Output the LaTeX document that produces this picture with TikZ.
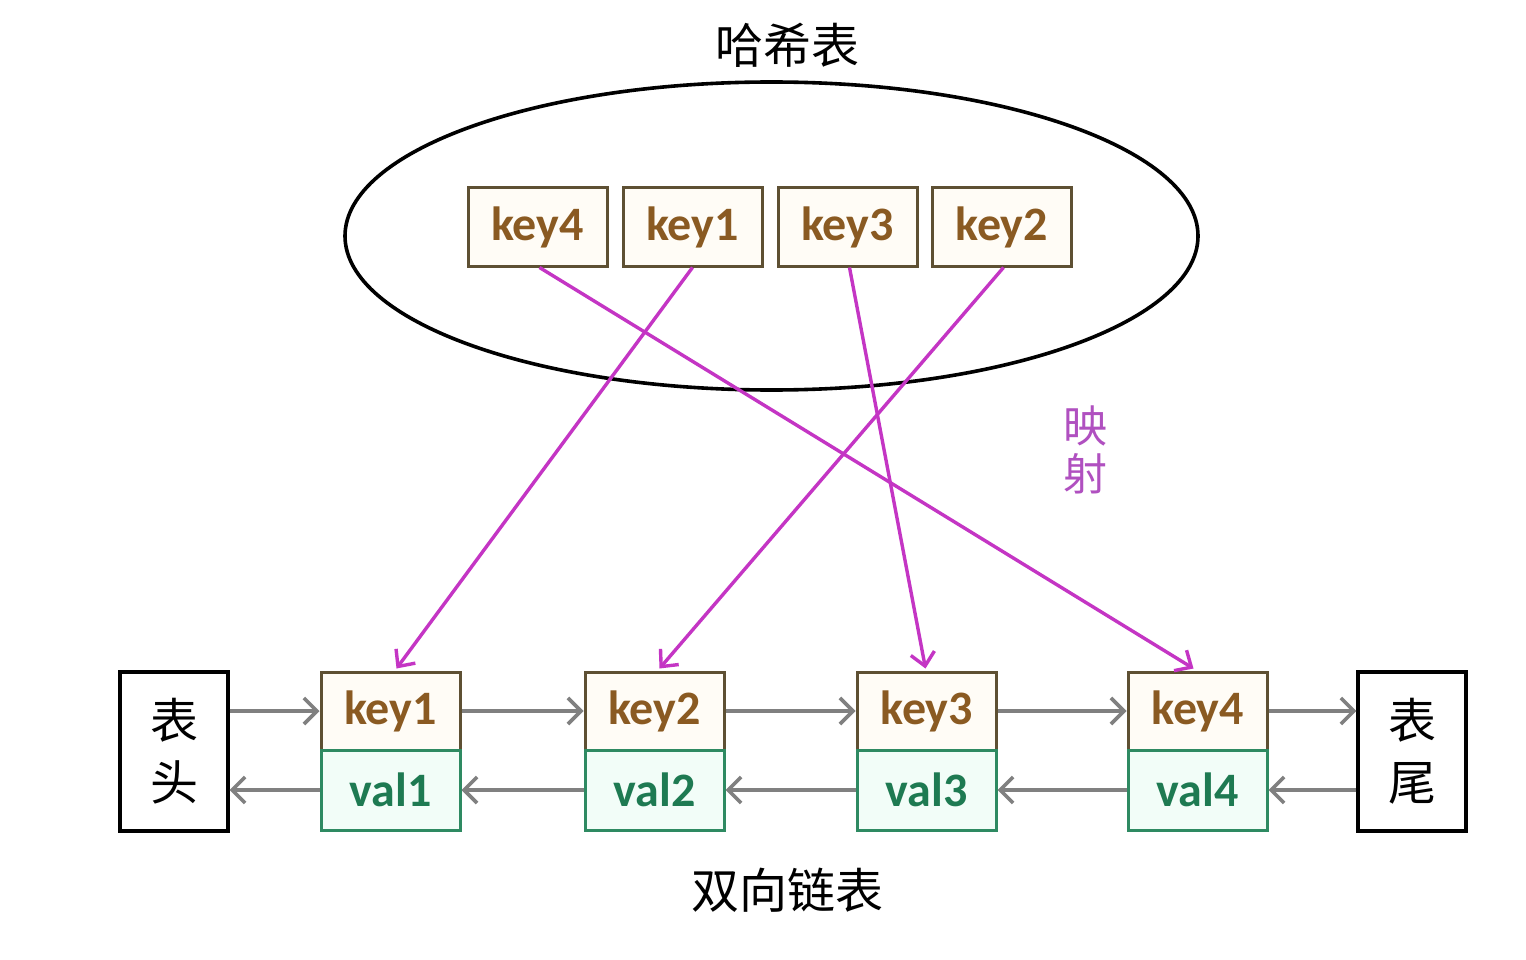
\documentclass[tikz,border=0pt]{standalone}
\usepackage{fontspec}
\setmainfont{Carlito}
\newfontfamily\cjk{Noto Sans CJK SC}
\usetikzlibrary{shapes.geometric,arrows.meta}
\definecolor{keytxt}{HTML}{8A5A22}
\definecolor{keybdr}{HTML}{5E5033}
\definecolor{keyfill}{HTML}{FFFCF6}
\definecolor{valtxt}{HTML}{1E7A52}
\definecolor{valbdr}{HTML}{2E8A62}
\definecolor{valfill}{HTML}{F2FDF8}
\definecolor{arrgray}{HTML}{808080}
\definecolor{mag}{HTML}{C435C4}
\definecolor{magtxt}{HTML}{B050C0}
\tikzset{
  keybox/.style={draw=keybdr, fill=keyfill, line width=3pt, minimum width=139pt, minimum height=78pt, inner sep=0pt,
    text=keytxt, font=\fontsize{48}{52}\selectfont\bfseries},
  valbox/.style={draw=valbdr, fill=valfill, line width=3pt, minimum width=139pt, minimum height=80pt, inner sep=0pt,
    text=valtxt, font=\fontsize{48}{52}\selectfont\bfseries},
  endbox/.style={draw=black, line width=3.2pt, minimum width=108pt, minimum height=159pt, inner sep=0pt,
    align=center, font=\cjk\fontsize{48}{62}\selectfont},
  grayarr/.style={draw=arrgray, line width=3.6pt, -{Straight Barb[length=13pt,width=26pt,line width=3.6pt]}},
  magarr/.style={draw=mag, line width=3.4pt, -{Straight Barb[length=13pt,width=24pt,line width=3.4pt]}},
  cjklabel/.style={font=\cjk\fontsize{48}{52}\selectfont, inner sep=0pt}
}
\begin{document}
\begin{tikzpicture}[x=1pt,y=1pt]
\useasboundingbox[fill=white] (0,0) rectangle (1526,-960);
% hash table
\node[cjklabel] (title) at (787,-45) {哈希表};
\node[draw=black, line width=3.6pt, ellipse, minimum width=853pt, minimum height=308pt, inner sep=0pt] (hash) at (771.5,-236) {};
\node[keybox] (h4) at (537.5,-227) {key4};
\node[keybox] (h1) at (692.5,-227) {key1};
\node[keybox] (h3) at (847.5,-227) {key3};
\node[keybox] (h2) at (1001.5,-227) {key2};
% linked list
\node[endbox] (head) at (174,-751.5) {表\\头};
\node[endbox] (tail) at (1412,-751.5) {表\\尾};
\node[keybox] (k1) at (390.5,-711) {key1};
\node[valbox] (v1) at (390.5,-790) {val1};
\node[keybox] (k2) at (654.5,-711) {key2};
\node[valbox] (v2) at (654.5,-790) {val2};
\node[keybox] (k3) at (926.5,-711) {key3};
\node[valbox] (v3) at (926.5,-790) {val3};
\node[keybox] (k4) at (1197.5,-711) {key4};
\node[valbox] (v4) at (1197.5,-790) {val4};
\node[cjklabel] (dll) at (787,-890) {双向链表};
\node[cjklabel, text=magtxt, font=\cjk\fontsize{44}{48}\selectfont, align=center] (map) at (1085,-450) {映\\射};
% forward arrows
\draw[grayarr] (head.east |- k1.west) -- (k1.west);
\draw[grayarr] (k1.east) -- (k2.west);
\draw[grayarr] (k2.east) -- (k3.west);
\draw[grayarr] (k3.east) -- (k4.west);
\draw[grayarr] (k4.east) -- (tail.west |- k4.east);
% backward arrows
\draw[grayarr] (v1.west) -- (head.east |- v1.west);
\draw[grayarr] (v2.west) -- (v1.east);
\draw[grayarr] (v3.west) -- (v2.east);
\draw[grayarr] (v4.west) -- (v3.east);
\draw[grayarr] (tail.west |- v4.east) -- (v4.east);
% mapping arrows
\draw[magarr] ([xshift=2pt]h4.south) -- ([xshift=-4pt,yshift=2pt]k4.north);
\draw[magarr] (h1.south) -- ([xshift=6pt,yshift=2pt]k1.north);
\draw[magarr] ([xshift=2pt]h3.south) -- ([xshift=-1pt,yshift=2pt]k3.north);
\draw[magarr] ([xshift=2pt]h2.south) -- ([xshift=5pt,yshift=2pt]k2.north);
\end{tikzpicture}
\end{document}
